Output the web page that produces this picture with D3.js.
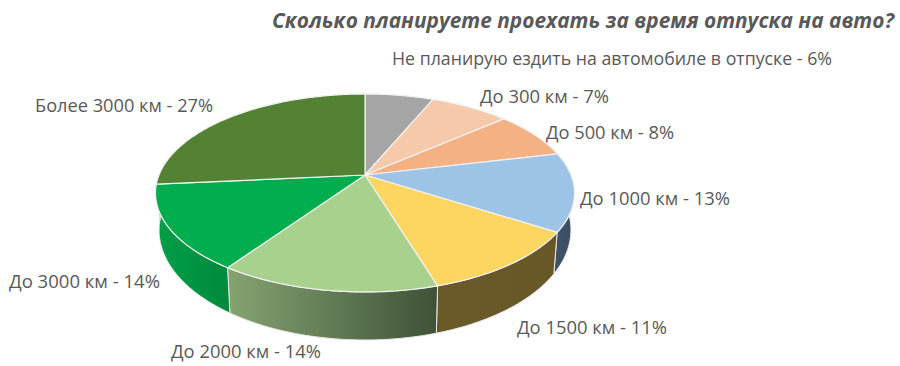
<!DOCTYPE html>
<html><head><meta charset="utf-8">
<script src="https://cdn.jsdelivr.net/npm/d3@7/dist/d3.min.js"></script>
<style>html,body{margin:0;padding:0;background:#fff}svg{display:block}text{font-family:"Open Sans",sans-serif;fill:#595959}</style>
</head><body><svg id="c" width="900" height="366"></svg>
<script>
const titleText = "Сколько планируете проехать за время отпуска на авто?";
const categories = ["Не планирую ездить на автомобиле в отпуске","До 300 км","До 500 км","До 1000 км","До 1500 км","До 2000 км","До 3000 км","Более 3000 км"];
const labelValues = [6,7,8,13,11,14,14,27];
const shares = [6.3,7.3,7.7,12.8,11.2,14.3,13.9,26.5];
const topColors = ["#A5A5A5","#F5C9A9","#F4B183","#9DC3E6","#FDD662","#A9D18E","#00AD4E","#548235"];
const wallFrom = ["#6b6b6b","#9a7a62","#a07050","#3f5368","#6a5a2a","#86a371","#009e47","#3e6027"];
const wallTo   = ["#6b6b6b","#9a7a62","#a07050","#3a4c60","#685828","#3f5238","#008a3c","#3e6027"];
// layout of labels: left edge, baseline, width
const labelX = [392,480,546,580,517,171,9,35];
const labelY = [65,103,139,205,334,358,288,112];
const labelW = [440,129,128,150,150,150,151,178];

const svg = d3.select("#c");
const cx=365, cy=175, A=206, B=95.7, k=0.1818, s=0.983, Bb=100, D=35;
const project=(a,bottom)=>{
  const u=Math.sin(a), v=-Math.cos(a), w=1-k*v;
  return bottom ? [cx+s*A*u/w, cy+(Bb*v+D)/w] : [cx+A*u/w, cy+B*v/w];
};
const rim=(a0,a1,bottom)=>{
  const n=Math.max(2,Math.ceil(Math.abs(a1-a0)/0.02));
  return d3.range(n+1).map(i=>project(a0+(a1-a0)*i/n,bottom));
};
const pie=d3.pie().sort(null).value(d=>d)(shares);
const line=d3.line();
const defs=svg.append("defs");
pie.forEach((p,i)=>{
  const g=defs.append("linearGradient").attr("id","w"+i);
  g.append("stop").attr("offset",0).attr("stop-color",wallFrom[i]);
  g.append("stop").attr("offset",1).attr("stop-color",wallTo[i]);
});
svg.append("g").selectAll("path").data(pie).join("path")
  .attr("d",p=>line(rim(p.startAngle,p.endAngle,false).concat(rim(p.endAngle,p.startAngle,true)))+"Z")
  .attr("fill",(p,i)=>`url(#w${i})`)
  .attr("stroke","#e8e8e8").attr("stroke-width",1).attr("stroke-linejoin","round");
svg.append("g").selectAll("path").data(pie).join("path")
  .attr("d",p=>line([[cx,cy]].concat(rim(p.startAngle,p.endAngle,false)))+"Z")
  .attr("fill",(p,i)=>topColors[i])
  .attr("stroke","#f2f2f2").attr("stroke-width",1.2).attr("stroke-linejoin","round");
svg.append("g").selectAll("text").data(categories).join("text")
  .attr("x",(d,i)=>labelX[i]).attr("y",(d,i)=>labelY[i])
  .attr("font-size",18)
  .attr("textLength",(d,i)=>labelW[i]).attr("lengthAdjust","spacingAndGlyphs")
  .text((d,i)=>`${d} - ${labelValues[i]}%`);
svg.append("text").attr("x",272).attr("y",28)
  .attr("font-size",21).attr("font-weight",700).attr("font-style","italic")
  .attr("textLength",622).attr("lengthAdjust","spacingAndGlyphs")
  .text(titleText);
</script></body></html>
